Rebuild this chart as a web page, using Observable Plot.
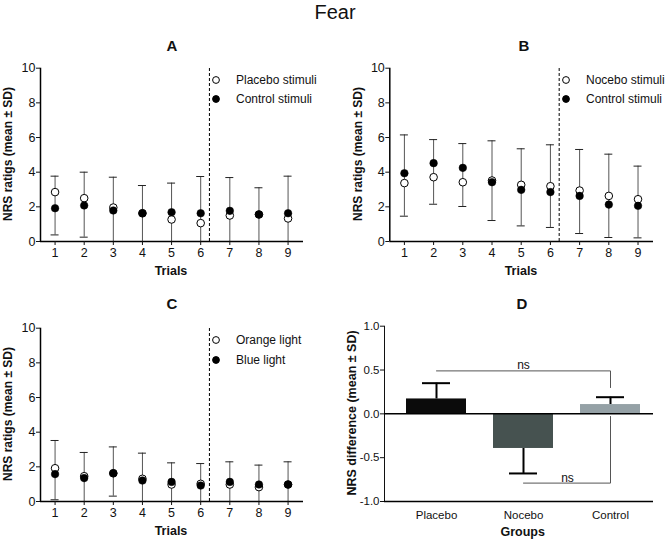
<!DOCTYPE html>
<html><head><meta charset="utf-8">
<script src="https://cdn.jsdelivr.net/npm/d3@7"></script>
<script src="https://cdn.jsdelivr.net/npm/@observablehq/plot@0.6"></script>
<style>
body{margin:0;background:#fff;font-family:"Liberation Sans",Arial,sans-serif;color:#111;}
#root{position:relative;width:667px;height:541px;overflow:hidden;background:#fff;}
#root svg.plot{position:absolute;}
.ttl{position:absolute;font-weight:bold;font-size:15px;transform:translate(-50%,-50%);white-space:nowrap;}
.main{position:absolute;font-size:20px;transform:translate(-50%,-50%);white-space:nowrap;}
.xl{position:absolute;font-weight:bold;font-size:12.5px;transform:translate(-50%,-50%);white-space:nowrap;}
.yl{position:absolute;font-weight:bold;font-size:12px;transform:translate(-50%,-50%) rotate(-90deg);white-space:nowrap;}
.lg{position:absolute;font-size:12px;white-space:nowrap;transform:translateY(-50%);display:flex;align-items:center;}
.lg svg{display:block;margin-right:15px;}
</style></head>
<body><div id="root"></div>
<script>
// ---------- data ----------
const trials = [1, 2, 3, 4, 5, 6, 7, 8, 9];
const dividerTrial = 6.3;
const trialYTicks = [0, 2, 4, 6, 8, 10];

// Panel A
const aPlacebo = [2.85, 2.5, 1.96, 1.63, 1.27, 1.06, 1.5, 1.56, 1.33];
const aControl = [1.92, 2.08, 1.79, 1.63, 1.69, 1.63, 1.77, 1.56, 1.63];
const aUpper   = [3.77, 4.0, 3.71, 3.23, 3.37, 3.75, 3.69, 3.1, 3.77];
const aLower   = [0.38, 0.25, -0.2, -0.1, -0.3, -0.5, -0.4, -0.2, -0.5];

// Panel B
const bNocebo  = [3.37, 3.71, 3.42, 3.52, 3.27, 3.19, 2.94, 2.63, 2.44];
const bControl = [3.94, 4.52, 4.25, 3.42, 2.98, 2.85, 2.63, 2.13, 2.06];
const bUpper   = [6.15, 5.88, 5.65, 5.81, 5.35, 5.58, 5.31, 5.04, 4.35];
const bLower   = [1.46, 2.15, 2.02, 1.21, 0.9, 0.81, 0.46, 0.23, 0.21];

// Panel C
const cOrange = [1.92, 1.46, 1.63, 1.31, 0.98, 1.02, 0.98, 0.83, 0.98];
const cBlue   = [1.58, 1.35, 1.63, 1.21, 1.13, 0.92, 1.13, 0.98, 0.98];
const cUpper  = [3.52, 2.83, 3.15, 2.79, 2.23, 2.19, 2.29, 2.1, 2.29];
const cLower  = [0.1, -0.1, 0.31, -0.2, -0.2, -0.3, -0.1, -0.2, -0.3];

// Panel D
const groups   = ["Placebo", "Nocebo", "Control"];
const dMeans   = [0.17, -0.395, 0.106];
const dErrEnds = [0.35, -0.68, 0.19];
const dColors  = ["#0b0b0b", "#465250", "#95a1a6"];
const dYTicks  = [-1, -0.5, 0, 0.5, 1];
const bracketTop    = [{g: "Placebo", y: 0.49}, {g: "Control", y: 0.49}, {g: "Control", y: 0.3}];
const bracketBottom = [{g: "Nocebo", y: -0.79}, {g: "Control", y: -0.79}, {g: "Control", y: -0.03}];
const nsTop    = [{g: "Nocebo", y: 0.56, t: "ns"}];
const nsBottom = [{g: "Nocebo", y: -0.73, t: "ns"}];

// ---------- layout helpers ----------
const root = document.getElementById("root");
const FONT = "'Liberation Sans', Arial, sans-serif";
const xDomain = [0.5, 9.53];

function place(svg, left, top) {
  svg.classList.add("plot");
  svg.style.left = left + "px";
  svg.style.top = top + "px";
  root.appendChild(svg);
}
function addText(cls, text, x, y, size) {
  const d = document.createElement("div");
  d.className = cls; d.textContent = text;
  d.style.left = x + "px"; d.style.top = y + "px";
  if (size) d.style.fontSize = size + "px";
  root.appendChild(d);
}
function addLegend(x, y, label, filled) {
  const d = document.createElement("div");
  d.className = "lg";
  d.style.left = (x - 5) + "px"; d.style.top = y + "px";
  d.innerHTML = `<svg width="10" height="10"><circle cx="5" cy="5" r="3.4" fill="${filled ? "#000" : "#fff"}" stroke="#000" stroke-width="1"/></svg><span>${label}</span>`;
  root.appendChild(d);
}

function trialPanel(openV, filledV, upperV, lowerV, o) {
  const rows = trials.map((t, i) => ({t, open: openV[i], filled: filledV[i], hi: upperV[i], lo: lowerV[i]}));
  return Plot.plot({
    width: o.width, height: o.height,
    marginLeft: o.ml, marginRight: o.mr, marginTop: o.mt, marginBottom: o.mb,
    style: {fontFamily: FONT, fontSize: "12px", color: "#111", background: "transparent", overflow: "visible"},
    x: {domain: xDomain, label: null},
    y: {domain: [0, 10], label: null},
    marks: [
      Plot.ruleX(rows, {x: "t", y1: "lo", y2: "hi", stroke: "#555", strokeWidth: 1, clip: true}),
      Plot.ruleY(rows, {x1: "t", x2: "t", y: "hi", insetLeft: -4, insetRight: -4, stroke: "#222", strokeWidth: 1, clip: true}),
      Plot.ruleY(rows, {x1: "t", x2: "t", y: "lo", insetLeft: -4, insetRight: -4, stroke: "#222", strokeWidth: 1, clip: true}),
      Plot.ruleX([dividerTrial], {y1: 0, y2: 10, stroke: "#000", strokeWidth: 1, strokeDasharray: "3,2"}),
      Plot.dot(rows, {x: "t", y: "open", r: 3.8, fill: "white", stroke: "black", strokeWidth: 1}),
      Plot.dot(rows, {x: "t", y: "filled", r: 3.8, fill: "black", stroke: "black", strokeWidth: 0.5}),
      Plot.ruleY([0], {stroke: "black", strokeWidth: 1.5}),
      Plot.ruleX([xDomain[0]], {y1: 0, y2: 10, stroke: "black", strokeWidth: 1.5}),
      Plot.axisY({ticks: trialYTicks, tickSize: 4, tickPadding: 1, fontSize: 12.5, label: null}),
      Plot.axisX({ticks: trials, tickSize: 4, tickPadding: 3, fontSize: 12.5, label: null})
    ]
  });
}

// ---------- titles ----------
addText("main", "Fear", 335, 12);
addText("ttl", "A", 172, 45);
addText("ttl", "B", 524, 45);
addText("ttl", "C", 172, 303);
addText("ttl", "D", 522, 303);

// ---------- panel A ----------
place(trialPanel(aPlacebo, aControl, aUpper, aLower, {width: 333, height: 252, ml: 40, mr: 30, mt: 37.7, mb: 41}), 0, 30);
addText("yl", "NRS ratigs (mean ± SD)", 7.5, 154);
addText("xl", "Trials", 171, 271);
addLegend(216, 80, "Placebo stimuli", false);
addLegend(216, 99, "Control stimuli", true);

// ---------- panel B ----------
place(trialPanel(bNocebo, bControl, bUpper, bLower, {width: 334, height: 252, ml: 56.3, mr: 14, mt: 37.7, mb: 41}), 333, 30);
addText("yl", "NRS ratigs (mean ± SD)", 358, 154);
addText("xl", "Trials", 521, 271);
addLegend(566, 80, "Nocebo stimuli", false);
addLegend(566, 99, "Control stimuli", true);

// ---------- panel C ----------
place(trialPanel(cOrange, cBlue, cUpper, cLower, {width: 333, height: 251, ml: 40, mr: 30, mt: 37.7, mb: 40}), 0, 290);
addText("yl", "NRS ratigs (mean ± SD)", 7.5, 414);
addText("xl", "Trials", 171, 531);
addLegend(216, 340, "Orange light", false);
addLegend(216, 360, "Blue light", true);

// ---------- panel D ----------
const dRows = groups.map((g, i) => ({g, m: dMeans[i], e: dErrEnds[i], c: dColors[i]}));
const dPlot = Plot.plot({
  width: 334, height: 251, marginLeft: 51, marginRight: 14, marginTop: 35.7, marginBottom: 40,
  style: {fontFamily: FONT, fontSize: "11.5px", color: "#111", background: "transparent", overflow: "visible"},
  x: {domain: groups, paddingInner: 0.31, paddingOuter: 0.2, align: 0.62, label: null, tickSize: 0, tickPadding: 9, fontSize: 12.5},
  y: {domain: [-1, 1], ticks: dYTicks, tickFormat: d => d.toFixed(1), tickSize: 4, tickPadding: 1, label: null, line: true},
  color: {type: "identity"},
  marks: [
    Plot.ruleX(dRows, {x: "g", y1: "m", y2: "e", stroke: "black", strokeWidth: 2}),
    Plot.tickY(dRows, {x: "g", y: "e", stroke: "black", strokeWidth: 2, insetLeft: 16, insetRight: 16}),
    Plot.barY(dRows, {x: "g", y: "m", fill: "c"}),
    Plot.line(bracketTop, {x: "g", y: "y", stroke: "#555", strokeWidth: 1}),
    Plot.line(bracketBottom, {x: "g", y: "y", stroke: "#555", strokeWidth: 1}),
    Plot.text(nsTop, {x: "g", y: "y", text: "t", fontSize: 12, fill: "#111"}),
    Plot.text(nsBottom, {x: "g", y: "y", text: "t", dx: 44, fontSize: 12, fill: "#111"}),
    Plot.ruleY([0], {stroke: "black", strokeWidth: 1.5}),
    Plot.ruleY([-1], {stroke: "black", strokeWidth: 1.5})
  ]
});
place(dPlot, 333, 290);
addText("yl", "NRS difference (mean ± SD)", 352, 413, 12.5);
addText("xl", "Groups", 522.7, 532);
</script>
</body></html>
